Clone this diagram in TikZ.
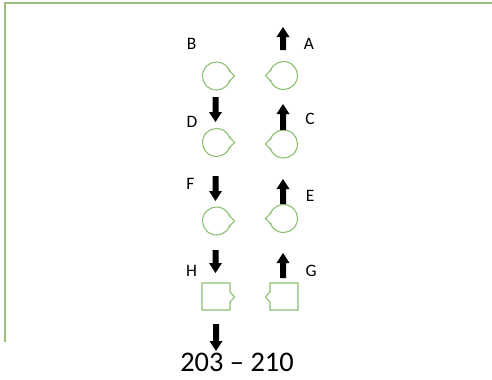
\documentclass[tikz,border=0pt]{standalone}
\usepackage{fontspec}
\setmainfont{Carlito}
\definecolor{shpgreen}{RGB}{140,192,112}
\definecolor{framegreen}{RGB}{155,190,120}
\newcommand\arrdown[3]{\fill[black] (#1-3,#2) -- (#1+3,#2) -- (#1+3,#3-10) -- (#1+6.5,#3-10) -- (#1,#3) -- (#1-6.5,#3-10) -- (#1-3,#3-10) -- cycle;}
\newcommand\arrup[3]{\fill[black] (#1-3,#3) -- (#1+3,#3) -- (#1+3,#2+10) -- (#1+6.5,#2+10) -- (#1,#2) -- (#1-6.5,#2+10) -- (#1-3,#2+10) -- cycle;}
\tikzset{
  shp/.style={draw=shpgreen, line width=1.1pt},
  lbl/.style={font=\fontsize{17.5}{17.5}\selectfont, inner sep=0pt},
  notchR/.pic={\draw[shp] (22:14) arc[start angle=22,end angle=338,radius=14] -- (18,0) -- cycle;
    \fill[shpgreen] (22:14) circle[radius=1.2] (-22:14) circle[radius=1.2];},
  notchL/.pic={\draw[shp] (202:14) arc[start angle=202,end angle=518,radius=14] -- (-18,0) -- cycle;
    \fill[shpgreen] (202:14) circle[radius=1.2] (158:14) circle[radius=1.2];}
}
\begin{document}
\begin{tikzpicture}[x=1bp,y=-1bp]
\useasboundingbox (0,0) rectangle (492,379);
% frame
\draw[framegreen, line width=1.2pt] (5,342) -- (5,3) -- (492,3);
% labels
\node[lbl] (lB) at (191.5,44) {B};
\node[lbl] (lA) at (309,44) {A};
\node[lbl] (lD) at (192,122) {D};
\node[lbl] (lC) at (310,119) {C};
\node[lbl] (lF) at (190.5,184) {F};
\node[lbl] (lE) at (310,196) {E};
\node[lbl] (lH) at (191.5,271) {H};
\node[lbl] (lG) at (311,271) {G};
% circles
\coordinate (cB) at (216.5,76);
\coordinate (cA) at (283.5,75.5);
\coordinate (cD) at (216.5,142.5);
\coordinate (cC) at (283.5,144);
\coordinate (cF) at (216.5,221);
\coordinate (cE) at (283.5,218.5);
\pic at (cB) {notchR};
\pic at (cD) {notchR};
\pic at (cF) {notchR};
\pic at (cA) {notchL};
\pic at (cC) {notchL};
\pic at (cE) {notchL};
% squares
\draw[shp] (202,283) -- (230,283) -- (230,292) -- (234.5,297) -- (230,302) -- (230,310) -- (202,310) -- cycle;
\draw[shp] (298,283) -- (270,283) -- (270,292) -- (265.5,297) -- (270,302) -- (270,310) -- (298,310) -- cycle;
% arrows
\arrup{283}{27}{50}
\arrdown{215.5}{97}{122}
\arrup{283}{104}{130}
\arrdown{215.5}{176}{201}
\arrup{283}{179}{204}
\arrdown{215.5}{250}{273}
\arrup{283}{253}{278}
\arrdown{216}{324}{351}
% bottom text
\node[font=\fontsize{28.5}{28.5}\selectfont, inner sep=0pt] (txt) at (237,362) {203 – 210};
\end{tikzpicture}
\end{document}
